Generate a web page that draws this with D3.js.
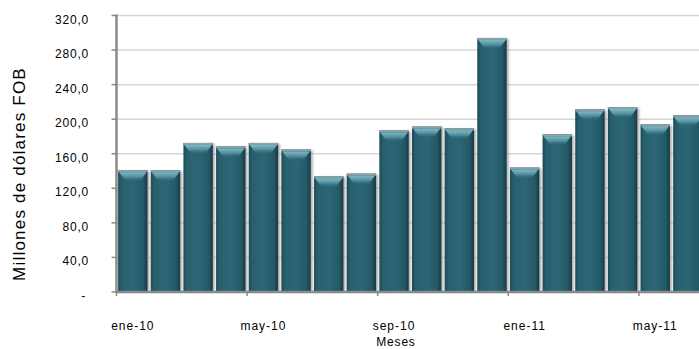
<!DOCTYPE html>
<html>
<head>
<meta charset="utf-8">
<script src="https://cdn.jsdelivr.net/npm/d3@7"></script>
<style>
  html, body { margin: 0; padding: 0; background: #fff; }
  svg { display: block; }
  text { font-family: "Liberation Sans", Arial, sans-serif; fill: #000; }
</style>
</head>
<body>
<svg id="chart" width="699" height="349"></svg>
<script>
const months = ["ene-10","feb-10","mar-10","abr-10","may-10","jun-10","jul-10","ago-10",
                "sep-10","oct-10","nov-10","dic-10","ene-11","feb-11","mar-11","abr-11","may-11","jun-11"];
const values = [141, 141, 172.5, 168.5, 172.5, 165, 134, 137,
                187, 191.5, 189.5, 294, 144, 182.5, 211.5, 214, 194, 204.5];
const yTicks = [0, 40, 80, 120, 160, 200, 240, 280, 320];
const xLabelMonths = ["ene-10","may-10","sep-10","ene-11","may-11"];
const yTitle = "Millones de dólares FOB";
const xTitle = "Meses";

const svg = d3.select("#chart");
const x0 = 116.5, step = 32.65, W = 699;
const x = d3.scaleBand().domain(months).range([x0, x0 + months.length * step])
  .paddingInner(0.1).paddingOuter(0.05);
const y = d3.scaleLinear().domain([0, 320]).range([292, 15.5]);

const defs = svg.append("defs");
const gBody = defs.append("linearGradient").attr("id", "body").attr("x1", 0).attr("x2", 1).attr("y1", 0).attr("y2", 0);
[[0, "#1c4a56"], [0.12, "#285f6d"], [0.5, "#2c6676"], [0.85, "#245a68"], [1, "#153a44"]]
  .forEach(([o, c]) => gBody.append("stop").attr("offset", o).attr("stop-color", c));
const gHi = defs.append("linearGradient").attr("id", "hi").attr("x1", 0).attr("x2", 0).attr("y1", 0).attr("y2", 1);
[[0, "#7ebcca", 1], [0.5, "#5a97a6", 0.9], [1, "#2c6676", 0.2]]
  .forEach(([o, c, a]) => gHi.append("stop").attr("offset", o).attr("stop-color", c).attr("stop-opacity", a));
const blur = defs.append("filter").attr("id", "blur");
blur.append("feGaussianBlur").attr("stdDeviation", 0.8);

// gridlines
svg.append("g").selectAll("line").data(yTicks.filter(t => t > 0)).join("line")
  .attr("x1", x0).attr("x2", W).attr("y1", d => y(d)).attr("y2", d => y(d))
  .attr("stroke", "#d6d6d6").attr("stroke-width", 1.5);

// bars
const bars = svg.append("g").selectAll("g").data(months.map((m, i) => ({m, v: values[i]}))).join("g");
bars.append("rect")
  .attr("x", d => x(d.m) + 2).attr("y", d => y(d.v) + 1)
  .attr("width", x.bandwidth()).attr("height", d => y(0) - y(d.v) - 1)
  .attr("fill", "#8f8f8f").attr("opacity", 0.7).attr("filter", "url(#blur)");
bars.append("rect")
  .attr("x", d => x(d.m)).attr("y", d => y(d.v))
  .attr("width", x.bandwidth()).attr("height", d => y(0) - y(d.v))
  .attr("fill", "url(#body)");
bars.append("path")
  .attr("d", d => {
    const bx = x(d.m), w = x.bandwidth(), t = y(d.v) + 2;
    return `M${bx + 1},${t} L${bx + w - 1},${t} L${bx + w * 0.74},${t + 9} L${bx + w * 0.26},${t + 9} Z`;
  })
  .attr("fill", "url(#hi)");
bars.append("rect")
  .attr("x", d => x(d.m)).attr("y", d => y(d.v))
  .attr("width", x.bandwidth()).attr("height", 2)
  .attr("fill", "#8aa2a8");

// axes
const axisColor = "#8a8a8a";
svg.append("line").attr("x1", x0).attr("x2", x0).attr("y1", y(320) - 1).attr("y2", y(0) + 1)
  .attr("stroke", axisColor).attr("stroke-width", 2.5);
svg.append("line").attr("x1", x0 - 1).attr("x2", W).attr("y1", y(0)).attr("y2", y(0))
  .attr("stroke", axisColor).attr("stroke-width", 2.5);
svg.append("g").selectAll("line").data(yTicks).join("line")
  .attr("x1", x0 - 5).attr("x2", x0).attr("y1", d => y(d)).attr("y2", d => y(d))
  .attr("stroke", axisColor).attr("stroke-width", 1.5);
const xTickIdx = months.map((m, i) => i).filter(i => i % 4 === 0);
svg.append("g").selectAll("line").data(xTickIdx).join("line")
  .attr("x1", i => x0 + i * step).attr("x2", i => x0 + i * step)
  .attr("y1", y(0)).attr("y2", y(0) + 4)
  .attr("stroke", axisColor).attr("stroke-width", 1.5);

// y tick labels
const fmt = d => d === 0 ? "-" : d.toFixed(1).replace(".", ",");
svg.append("g").selectAll("text").data(yTicks).join("text")
  .attr("x", d => d === 0 ? 86 : 89).attr("y", d => y(d) + 8)
  .attr("text-anchor", "end").attr("font-size", 12).attr("letter-spacing", 0.8)
  .text(fmt);

// x tick labels
svg.append("g").selectAll("text").data(xLabelMonths).join("text")
  .attr("x", d => x(d) + x.bandwidth() / 2).attr("y", 330)
  .attr("text-anchor", "middle").attr("font-size", 12).attr("letter-spacing", 1)
  .text(d => d);

// titles
svg.append("text").attr("x", 396).attr("y", 346).attr("text-anchor", "middle")
  .attr("font-size", 12).attr("letter-spacing", 0.8).text(xTitle);
svg.append("text").attr("transform", "translate(25,174) rotate(-90)")
  .attr("text-anchor", "middle").attr("font-size", 17).attr("letter-spacing", 1.2)
  .text(yTitle);
</script>
</body>
</html>
